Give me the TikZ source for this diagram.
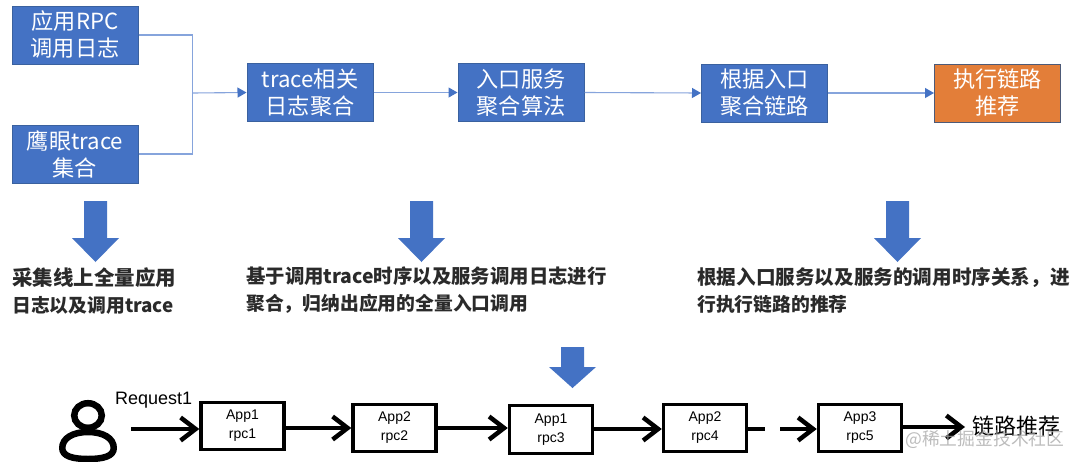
\documentclass[tikz,border=0pt]{standalone}
\usepackage{fontspec}
\setmainfont{Noto Sans CJK SC}
\newfontfamily\latinfont{Liberation Sans}
\usetikzlibrary{arrows.meta,positioning}
\definecolor{boxblue}{HTML}{4472C4}
\definecolor{boxedge}{HTML}{3A619F}
\definecolor{linkblue}{HTML}{86A4DC}
\definecolor{boxorange}{HTML}{E37E39}
\definecolor{orangeedge}{HTML}{4D5A78}
\definecolor{noteink}{HTML}{2A2A2A}
\newcommand{\notefs}[1]{\fontsize{#1}{27}\selectfont}
\tikzset{
  flowbox/.style={draw=boxedge,line width=1pt,fill=boxblue,text=white,minimum width=126pt,minimum height=58pt,inner sep=0pt,align=center,font=\fontsize{22.2}{27}\selectfont},
  hotbox/.style={flowbox,fill=boxorange,draw=orangeedge},
  link/.style={draw=linkblue,line width=1.1pt},
  linkarrow/.style={link,-{Triangle[length=9pt,width=10pt,color=boxblue,fill=boxblue]}},
  bigarrow/.style={fill=boxblue,draw=none},
  note/.style={anchor=north west,inner sep=0pt,align=left,text=noteink,font=\fontsize{19}{27}\selectfont\bfseries},
  appbox/.style={draw=black,line width=3.4pt,fill=white,minimum width=83pt,minimum height=47.5pt,inner sep=0pt,align=center,font=\latinfont\fontsize{14}{19}\selectfont},
  flowline/.style={draw=black,line width=4.5pt},
  flowarrow/.style={flowline,-{Straight Barb[length=15pt,width=23pt,line width=4.5pt]}},
}
\begin{document}
\begin{tikzpicture}[x=1pt,y=-1pt]
\useasboundingbox (0,0) rectangle (1080,461);
\fill[white] (0,0) rectangle (1080,461);

% top flow
\node[flowbox] (rpc) at (75,35) {应用RPC\\调用日志};
\node[flowbox] (eye) at (75,154) {鹰眼trace\\集合};
\node[flowbox] (agg) at (310,92.5) {trace相关\\日志聚合};
\node[flowbox] (entry) at (521,92.5) {入口服务\\聚合算法};
\node[flowbox] (chain) at (764.5,93) {根据入口\\聚合链路};
\node[hotbox] (exec) at (997.5,93) {执行链路\\推荐};

\coordinate (join) at (192.5,93);
\draw[link] (rpc.east) -| (join);
\draw[link] (eye.east) -| (join);
\draw[linkarrow] (join) -- (agg.west);
\draw[linkarrow] (agg.east) -- (entry.west);
\draw[linkarrow] (entry.east) -- (chain.west);
\draw[linkarrow] (chain.east) -- (exec.west);

% big arrows
\fill[bigarrow] (84,201) -- (107,201) -- (107,238) -- (119,238) -- (95.5,262) -- (72,238) -- (84,238) -- cycle;
\fill[bigarrow] (410,201) -- (433,201) -- (433,238) -- (445,238) -- (421.5,262) -- (398,238) -- (410,238) -- cycle;
\fill[bigarrow] (886,201) -- (909,201) -- (909,238) -- (921,238) -- (897.5,262) -- (874,238) -- (886,238) -- cycle;
\fill[bigarrow] (561,347) -- (584,347) -- (584,367) -- (596,367) -- (572.5,388) -- (549,367) -- (561,367) -- cycle;

% notes
\node[note] (n1) at (12,267) {{\notefs{20.5}采集线上全量应用}\\{\notefs{18.8}日志以及调用trace}};
\node[note] (n2) at (246,267) {{\notefs{19.4}基于调用trace时序以及服务调用日志进行}\\{\notefs{18.8}聚合，归纳出应用的全量入口调用}};
\node[note] (n3) at (697,267) {{\notefs{19.6}根据入口服务以及服务的调用时序关系，进}\\{\notefs{18.8}行执行链路的推荐}};

% person
\draw[line width=6.5pt] (88,415.5) ellipse (13.8pt and 12.3pt);
\draw[line width=6.5pt,line join=round] (62.25,448) .. controls (62.25,438) and (73,432) .. (88,432) .. controls (103,432) and (113.75,438) .. (113.75,448) .. controls (113.75,456) and (104,459) .. (88,459) .. controls (72,459) and (62.25,456) .. (62.25,448) -- cycle;

\node[anchor=west,inner sep=0pt,font=\latinfont\fontsize{18}{20}\selectfont] (req) at (115,400.5) {Request1};

% bottom flow
\node[appbox] (a1) at (242.5,426) {\raisebox{-1.5pt}{App1}\\\raisebox{-1.5pt}{rpc1}};
\node[appbox] (a2) at (394.5,428) {\raisebox{-1.5pt}{App2}\\\raisebox{-1.5pt}{rpc2}};
\node[appbox] (a3) at (551,429.5) {\raisebox{-1.5pt}{App1}\\\raisebox{-1.5pt}{rpc3}};
\node[appbox] (a4) at (705,428) {\raisebox{-1.5pt}{App2}\\\raisebox{-1.5pt}{rpc4}};
\node[appbox] (a5) at (860,428) {\raisebox{-1.5pt}{App3}\\\raisebox{-1.5pt}{rpc5}};

\coordinate (start) at (131,429);
\coordinate (gapa) at (765,429);
\coordinate (gapb) at (780,429);
\coordinate (finish) at (965,427);
\draw[flowarrow] (start) -- (a1.west |- start);
\draw[flowarrow] (a1.east |- 0,428) -- (a2.west |- 0,428);
\draw[flowarrow] (a2.east |- 0,428) -- (a3.west |- 0,428);
\draw[flowarrow] (a3.east |- 0,429) -- (a4.west |- 0,429);
\draw[flowline] (a4.east |- gapa) -- (gapa);
\draw[flowarrow] (gapb) -- (a5.west |- gapb);
\draw[flowarrow] (a5.east |- finish) -- (finish);

\node[anchor=west,inner sep=0pt,font=\fontsize{22}{24}\selectfont] (rec) at (972,426) {链路推荐};
\node[anchor=west,inner sep=0pt,text=gray!70,opacity=.75,font=\fontsize{17.8}{20}\selectfont] (wm) at (905,439) {@稀土掘金技术社区};
\end{tikzpicture}
\end{document}
